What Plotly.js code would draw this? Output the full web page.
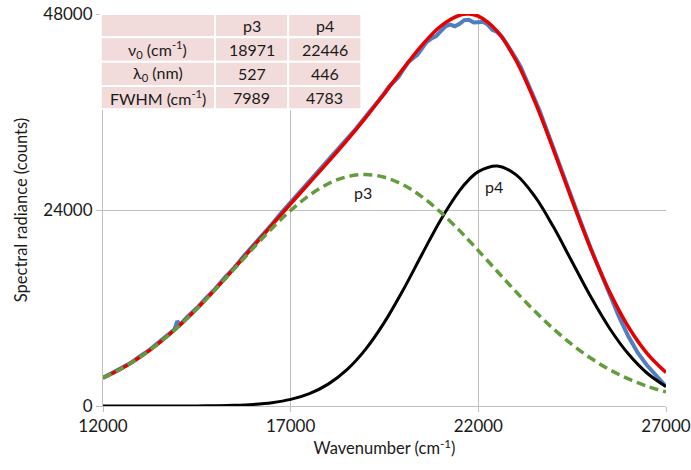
<!DOCTYPE html>
<html><head><meta charset="utf-8">
<script src="https://cdn.plot.ly/plotly-3.0.1.min.js"></script>
<style>html,body{margin:0;padding:0;background:#fff}#chart{width:691px;height:470px}</style>
</head><body><div id="chart"></div>
<script>
// Fitted components
const fitWavenumber = [12000,12500,13000,13500,14000,14500,15000,15500,16000,16500,17000,17500,18000,18500,19000,19500,20000,20500,21000,21500,21750,22000,22500,23000,23500,24000,24500,25000,25500,26000,26500,27000];
const p3Values = [3434,4598,6025,7724,9690,11896,14291,16798,19321,21744,23947,25806,27212,28078,28349,28008,27076,25612,23707,21473,20270,19030,16504,14006,11630,9449,7513,5845,4450,3315,2416,1723];
const p4Values = [0,0,1,2,5,14,35,85,191,405,808,1515,2679,4454,6971,10269,14238,18580,22819,26378,27724,28700,29390,28327,25696,21940,17631,13336,9493,6361,4011,2381];
const fitSumValues = [3434,4598,6026,7726,9695,11910,14326,16883,19512,22149,24755,27321,29891,32532,35320,38277,41314,44192,46526,47851,47994,47730,45894,42333,37326,31389,25144,19181,13943,9676,6427,4104];

const measuredWavenumber = [12000,12250,12500,12750,13000,13250,13500,13750,13900,13980,14050,14250,14500,14750,15000,15250,15500,15750,16000,16250,16500,16750,17000,17250,17500,17750,18000,18250,18500,18750,19000,19250,19500,19625,19750,19875,20000,20125,20250,20375,20500,20625,20750,20875,21000,21125,21250,21375,21500,21625,21750,21875,22000,22125,22250,22375,22500,22625,22750,22875,23000,23125,23250,23375,23500,23625,23750,23875,24000,24125,24250,24375,24500,24750,25000,25250,25500,25750,26000,26250,26500,26750,27000];
const measuredValues = [3450,4050,4700,5300,6150,6900,7850,8800,9350,10400,9950,10950,12000,13250,14400,15750,16950,18350,19600,21000,22250,23650,24950,26200,27550,28750,30100,31350,32700,34000,35450,36800,38300,39150,39700,40300,41200,42050,42550,43000,43800,44600,45000,45300,45900,46500,46700,46500,46800,47250,47300,46950,47000,47050,46700,46050,45800,45250,44400,43350,42550,41550,40250,38850,37600,36250,34700,33100,31650,30150,28500,26850,25350,22250,19250,16400,13600,10900,8500,6500,4950,3600,2400];

const xTickValues = [12000,17000,22000,27000];
const yTickValues = [0,24000,48000];
const tableHeader = ['', 'p3', 'p4'];
const tableRowLabels = ['ν<sub>0</sub> (cm<sup>-1</sup>)', 'λ<sub>0</sub> (nm)', 'FWHM (cm<sup>-1</sup>)'];
const tableP3 = ['18971', '527', '7989'];
const tableP4 = ['22446', '446', '4783'];
const peakNames = ['p3', 'p4'];

const FONT = 'Lato, "Open Sans", sans-serif';
const TXT = '#1a1a1a';

const traces = [
  {x: measuredWavenumber, y: measuredValues, type: 'scatter', mode: 'lines',
   line: {color: '#4f7fc0', width: 4}, hoverinfo: 'skip'},
  {x: fitWavenumber, y: fitSumValues, type: 'scatter', mode: 'lines',
   line: {color: '#e60000', width: 3.5, shape: 'spline'}, hoverinfo: 'skip'},
  {x: fitWavenumber, y: p4Values, type: 'scatter', mode: 'lines',
   line: {color: '#000000', width: 3, shape: 'spline'}, hoverinfo: 'skip'},
  {x: fitWavenumber, y: p3Values, type: 'scatter', mode: 'lines',
   line: {color: '#639c3c', width: 3.5, shape: 'spline', dash: '9px,5px'}, hoverinfo: 'skip'}
];

// table geometry (paper coordinates)
const colEdges = [-0.004, 0.199, 0.329, 0.459];
const rowEdges = [1.0, 0.9406, 0.8783, 0.8163, 0.7569];
const shapes = [];
const annotations = [];
const rows = [tableHeader];
for (let i = 0; i < tableRowLabels.length; i++) rows.push([tableRowLabels[i], tableP3[i], tableP4[i]]);
for (let r = 0; r < rows.length; r++) {
  for (let c = 0; c < 3; c++) {
    shapes.push({type: 'rect', xref: 'paper', yref: 'paper', layer: 'above',
      x0: colEdges[c], x1: colEdges[c + 1], y0: rowEdges[r + 1], y1: rowEdges[r],
      fillcolor: '#f2dcdb', line: {color: '#ffffff', width: 2}});
    if (rows[r][c]) {
      annotations.push({xref: 'paper', yref: 'paper', showarrow: false,
        x: (colEdges[c] + colEdges[c + 1]) / 2, y: (rowEdges[r] + rowEdges[r + 1]) / 2,
        xanchor: 'center', yanchor: 'middle', text: rows[r][c],
        font: {family: FONT, size: 16, color: TXT}});
    }
  }
}
annotations.push({x: 18914, y: 26150, xref: 'x', yref: 'y', text: peakNames[0], showarrow: false,
  font: {family: FONT, size: 16, color: TXT}});
annotations.push({x: 22408, y: 26900, xref: 'x', yref: 'y', text: peakNames[1], showarrow: false,
  font: {family: FONT, size: 16, color: TXT}});

const layout = {
  width: 691, height: 470,
  margin: {l: 103, r: 25, t: 14, b: 64},
  paper_bgcolor: '#ffffff', plot_bgcolor: '#ffffff',
  showlegend: false,
  font: {family: FONT, size: 16, color: TXT},
  xaxis: {
    range: [12000, 27000], tickvals: xTickValues, ticktext: xTickValues.map(String),
    showgrid: true, gridcolor: '#bfbfbf', gridwidth: 1,
    showline: true, linecolor: '#bfbfbf', linewidth: 1, zeroline: false,
    ticks: 'outside', ticklen: 5, tickcolor: '#bfbfbf',
    tickfont: {family: FONT, size: 17, color: TXT},
    title: {text: 'Wavenumber (cm<sup>-1</sup>)', font: {family: FONT, size: 16.5, color: TXT}, standoff: 7},
    fixedrange: true
  },
  yaxis: {
    range: [0, 48000], tickvals: yTickValues, ticktext: yTickValues.map(String),
    showgrid: true, gridcolor: '#bfbfbf', gridwidth: 1,
    showline: true, linecolor: '#bfbfbf', linewidth: 1, zeroline: false,
    ticks: 'outside', ticklen: 6, tickcolor: '#bfbfbf',
    tickfont: {family: FONT, size: 17, color: TXT},
    title: {text: 'Spectral radiance (counts)', font: {family: FONT, size: 16.5, color: TXT}, standoff: 11},
    fixedrange: true
  },
  shapes: shapes,
  annotations: annotations
};

Plotly.newPlot('chart', traces, layout, {displayModeBar: false, staticPlot: true});
</script>
</body></html>
